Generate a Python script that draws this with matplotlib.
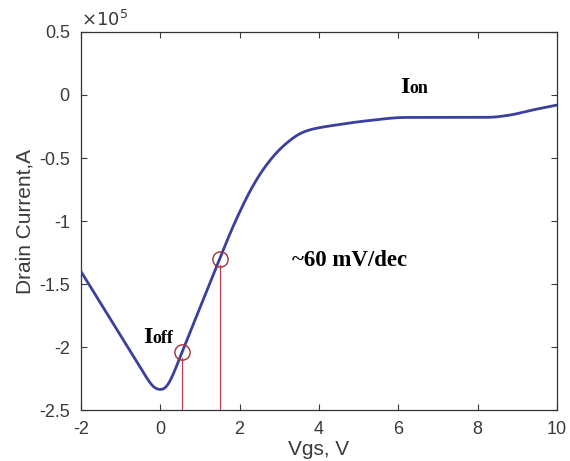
import matplotlib
matplotlib.use("Agg")
import matplotlib.pyplot as plt
import numpy as np

plt.rcParams['axes.unicode_minus'] = False

vgs = [-2, -1.5, -1, -0.5, -0.3, -0.15, 0.0, 0.1, 0.25, 0.4, 0.55, 1.0, 1.5, 1.75, 2.0,
       2.25, 2.5, 2.75, 3.0, 3.25, 3.5, 3.75, 4.0, 4.5, 5.2, 6.2, 7.2, 8.3, 8.8, 9.4, 10]
drain = [-1.40, -1.655, -1.91, -2.165, -2.265, -2.325, -2.34, -2.335, -2.27, -2.16, -2.04,
         -1.69, -1.30, -1.105, -0.93, -0.77, -0.635, -0.525, -0.435, -0.365, -0.31, -0.278,
         -0.26, -0.235, -0.205, -0.178, -0.178, -0.177, -0.16, -0.118, -0.08]
mark_x = [0.55, 1.5]
mark_y = [-2.04, -1.30]
xticks = [-2, 0, 2, 4, 6, 8, 10]
xtick_labels = ['-2', '0', '2', '4', '6', '8', '10']
yticks = [0.5, 0, -0.5, -1, -1.5, -2, -2.5]
ytick_labels = ['0.5', '0', '-0.5', '-1', '-1.5', '-2', '-2.5']


def pchip(x, y, xs):
    x = np.asarray(x, float); y = np.asarray(y, float)
    h = np.diff(x); dl = np.diff(y) / h
    n = len(x); d = np.zeros(n)
    for i in range(1, n - 1):
        if dl[i - 1] * dl[i] > 0:
            w1 = 2 * h[i] + h[i - 1]; w2 = h[i] + 2 * h[i - 1]
            d[i] = (w1 + w2) / (w1 / dl[i - 1] + w2 / dl[i])
    d[0] = dl[0]; d[-1] = dl[-1]
    k = np.clip(np.searchsorted(x, xs) - 1, 0, n - 2)
    hk = h[k]; t = (xs - x[k]) / hk
    h00 = 2*t**3 - 3*t**2 + 1; h10 = t**3 - 2*t**2 + t
    h01 = -2*t**3 + 3*t**2; h11 = t**3 - t**2
    return h00*y[k] + h10*hk*d[k] + h01*y[k+1] + h11*hk*d[k+1]


fig = plt.figure(figsize=(5.7, 4.61), dpi=100)
ax = fig.add_axes([0.142, 0.1106, 0.835, 0.82])

xs = np.linspace(min(vgs), max(vgs), 1201)
ys = pchip(vgs, drain, xs)
# light smoothing of the drawn curve
step = xs[1] - xs[0]
sig = 0.07 / step
kx = np.arange(-int(4 * sig), int(4 * sig) + 1)
kern = np.exp(-0.5 * (kx / sig) ** 2); kern /= kern.sum()
npad = len(kx) // 2
left = 2 * ys[0] - ys[1:npad + 1][::-1]
right = 2 * ys[-1] - ys[-npad - 1:-1][::-1]
ys_s = np.convolve(np.concatenate([left, ys, right]), kern, mode='valid')
ax.plot(xs, ys_s, color='#3b3f9e', lw=2.0, zorder=3, solid_capstyle='round')

red = '#c0404f'
for mx, my in zip(mark_x, mark_y):
    ax.plot([mx, mx], [-2.5, my - 0.05], color=red, lw=0.9, zorder=2)
ax.plot(mark_x, mark_y, 'o', ms=11, mfc='none', mec='#a0303a', mew=1.0, zorder=4)

ax.set_xlim(-2, 10)
ax.set_ylim(-2.5, 0.5)
ax.set_xticks(xticks)
ax.set_xticklabels(xtick_labels)
ax.set_yticks(yticks)
ax.set_yticklabels(ytick_labels)
tc = '#3a3a3a'
sans = 'Liberation Sans'
ax.tick_params(direction='in', top=True, right=True, length=4, width=0.8,
               labelsize=13, colors=tc, pad=8)
for lab in ax.get_xticklabels() + ax.get_yticklabels():
    lab.set_family(sans)
for s in ax.spines.values():
    s.set_color('#333333')
    s.set_linewidth(0.9)
ax.set_xlabel('Vgs, V', fontsize=15, color=tc, labelpad=1, family=sans)
ax.set_ylabel('Drain Current,A', fontsize=15, color=tc, labelpad=3, family=sans)
ax.text(0.0, 1.005, r'$\times10^5$', transform=ax.transAxes, fontsize=13,
        color=tc, ha='left', va='bottom', family=sans)

serif = 'Liberation Serif'
ax.text(-0.44, -1.968, 'I', fontsize=17.5, fontweight='bold', family=serif, ha='left', va='baseline')
ax.text(-0.19, -1.968, 'off', fontsize=13, fontweight='bold', family=serif, ha='left', va='baseline')
ax.text(6.04, 0.016, 'I', fontsize=17.5, fontweight='bold', family=serif, ha='left', va='baseline')
ax.text(6.29, 0.016, 'on', fontsize=13, fontweight='bold', family=serif, ha='left', va='baseline')
ax.text(3.32, -1.357, '~60 mV/dec', fontsize=16.5, fontweight='bold', family=serif, ha='left', va='baseline')

fig.savefig('out.png', dpi=100)
